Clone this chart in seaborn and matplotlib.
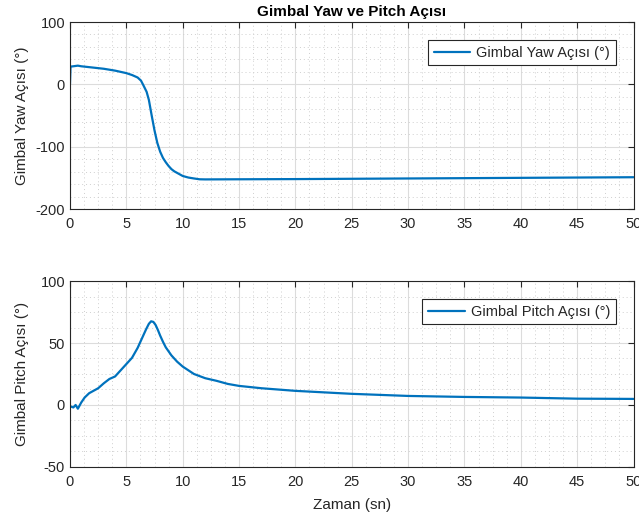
import numpy as np
import pandas as pd
import matplotlib
matplotlib.use("Agg")
import matplotlib.pyplot as plt
import seaborn as sns
from matplotlib.ticker import MultipleLocator

# zaman (sn) ve gimbal açıları
yaw_t = [0.0, 0.05, 0.3, 0.7, 1.0, 2.0, 3.0, 4.0, 5.0, 5.5, 6.0, 6.3, 6.5, 6.8,
         7.0, 7.25, 7.5, 7.75, 8.0, 8.25, 8.5, 8.75, 9.0, 9.25, 9.5, 10.0, 10.5,
         11.0, 11.5, 12.0, 15.0, 20.0, 25.0, 30.0, 35.0, 40.0, 45.0, 50.0]
yaw_deg = [0.0, 28.5, 29.0, 30.0, 29.0, 27.0, 25.0, 22.0, 18.0, 15.0, 11.0, 6.0,
           -1.0, -12.0, -25.0, -50.0, -74.0, -94.0, -108.0, -118.0, -125.0,
           -131.0, -136.0, -139.5, -142.0, -147.0, -149.5, -151.0, -152.3,
           -152.5, -152.3, -152.0, -151.5, -151.0, -150.5, -150.0, -149.5, -149.0]

pitch_t = [0.0, 0.3, 0.5, 0.7, 1.0, 1.3, 1.7, 2.0, 2.5, 3.0, 3.5, 4.0, 4.5, 5.0,
           5.5, 6.0, 6.5, 6.75, 7.0, 7.2, 7.4, 7.6, 7.8, 8.0, 8.25, 8.5, 9.0,
           9.5, 10.0, 11.0, 12.0, 13.0, 14.0, 15.0, 17.0, 20.0, 25.0, 30.0,
           35.0, 40.0, 45.0, 50.0]
pitch_deg = [-1.0, -2.0, 0.0, -3.0, 2.0, 6.0, 9.5, 11.0, 13.5, 17.5, 21.0, 23.0,
             28.0, 33.0, 38.0, 46.0, 56.0, 61.0, 65.5, 67.5, 67.0, 64.5, 60.5,
             56.0, 51.0, 46.5, 40.0, 35.0, 31.0, 25.0, 21.6, 19.5, 17.0, 15.4,
             13.5, 11.4, 9.0, 7.3, 6.5, 6.0, 5.1, 4.9]

yaw_df = pd.DataFrame({"t": yaw_t, "deg": yaw_deg})
pitch_df = pd.DataFrame({"t": pitch_t, "deg": pitch_deg})

sns.set_theme(style="white")
plt.rcParams["font.family"] = ["Liberation Sans", "DejaVu Sans"]
plt.rcParams["axes.unicode_minus"] = False

dark = "#262626"
mblue = "#0072BD"

fig = plt.figure(figsize=(6.39, 5.18), dpi=100)
ax1 = fig.add_axes([0.1095, 0.5965, 0.882, 0.361])
ax2 = fig.add_axes([0.1095, 0.0985, 0.882, 0.359])


def style_axes(ax, ymin, ymax, ymajor, yminor):
    ax.set_xlim(0, 50)
    ax.set_ylim(ymin, ymax)
    ax.xaxis.set_major_locator(MultipleLocator(5))
    ax.xaxis.set_minor_locator(MultipleLocator(1.25))
    ax.yaxis.set_major_locator(MultipleLocator(ymajor))
    ax.yaxis.set_minor_locator(MultipleLocator(yminor))
    ax.grid(True, which="major", color="#dcdcdc", linewidth=0.8)
    ax.grid(True, which="minor", color="#cfcfcf", linestyle=(0, (1, 3)), linewidth=0.7)
    ax.set_axisbelow(True)
    ax.tick_params(which="major", direction="in", length=4, width=0.8,
                   top=True, right=True, colors=dark, labelsize=10.5)
    ax.tick_params(axis="x", which="major", pad=6)
    ax.tick_params(which="minor", length=0, top=True, right=True)
    for s in ax.spines.values():
        s.set_color(dark)
        s.set_linewidth(0.8)


sns.lineplot(data=yaw_df, x="t", y="deg", ax=ax1, color=mblue, linewidth=1.6,
             label="Gimbal Yaw Açısı (°)")
style_axes(ax1, -200, 100, 100, 20)
ax1.set_title("Gimbal Yaw ve Pitch Açısı", fontsize=11, fontweight="bold", color="black", pad=4)
ax1.set_xlabel("")
ax1.set_ylabel("Gimbal Yaw Açısı (°)", fontsize=11, color=dark)

sns.lineplot(data=pitch_df, x="t", y="deg", ax=ax2, color=mblue, linewidth=1.6,
             label="Gimbal Pitch Açısı (°)")
style_axes(ax2, -50, 100, 50, 12.5)
ax2.set_xlabel("Zaman (sn)", fontsize=11, color=dark, labelpad=6)
ax2.set_ylabel("Gimbal Pitch Açısı (°)", fontsize=11, color=dark)

for ax in (ax1, ax2):
    leg = ax.legend(loc="upper right", fontsize=10.5, frameon=True, fancybox=False,
                    framealpha=1, borderaxespad=1.22, handlelength=2.5,
                    borderpad=0.4, handletextpad=0.4)
    leg.get_frame().set_edgecolor(dark)
    leg.get_frame().set_linewidth(0.8)
    for txt in leg.get_texts():
        txt.set_color(dark)

ax1.yaxis.set_label_coords(-0.073, 0.5)
ax2.yaxis.set_label_coords(-0.073, 0.5)

fig.savefig("out.png", dpi=100)
plt.close(fig)
